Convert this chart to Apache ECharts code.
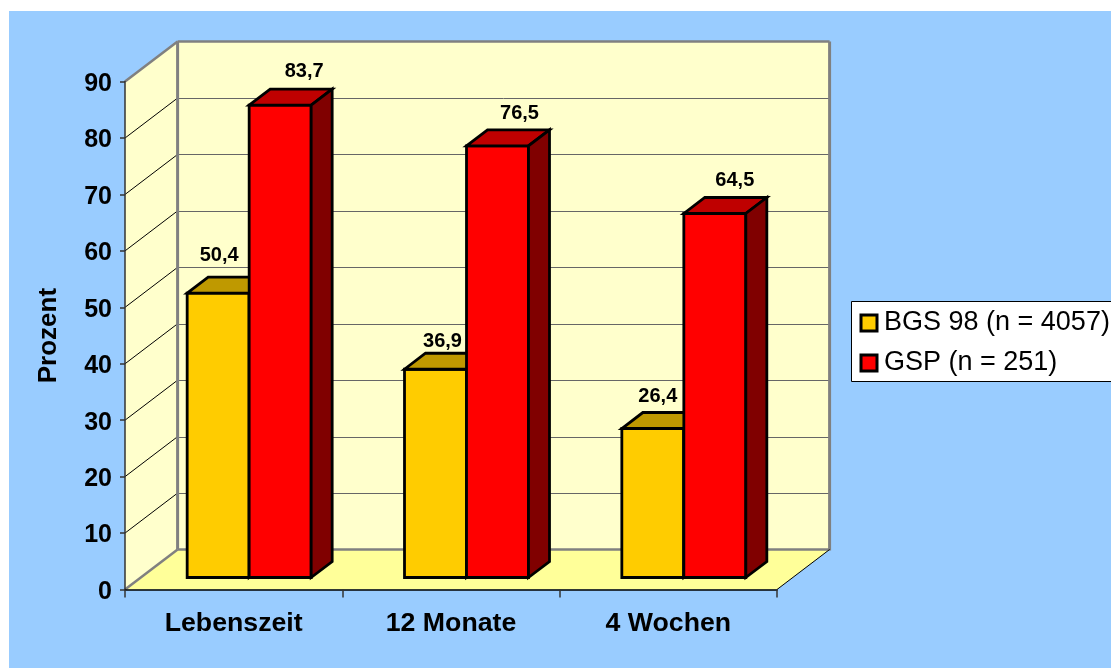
<!DOCTYPE html>
<html>
<head>
<meta charset="utf-8">
<style>html,body{margin:0;padding:0;background:#fff;overflow:hidden}#c{width:1111px;height:668px}</style>
<script src="https://cdn.jsdelivr.net/npm/echarts@6/dist/echarts.min.js"></script>
</head>
<body>
<div id="c"></div>
<script>
const categories = ['Lebenszeit', '12 Monate', '4 Wochen'];
const bgsName = 'BGS 98 (n = 4057)';
const gspName = 'GSP (n = 251)';
const bgsValues = [50.4, 36.9, 26.4];
const gspValues = [83.7, 76.5, 64.5];
const yTicks = [0, 10, 20, 30, 40, 50, 60, 70, 80, 90];

const FONT = '"Liberation Sans", Arial, sans-serif';
// perspective: wall depth and bar depth in pixels
const WALL = [52.6, -40], BAR = [21, -16], BAR_W = 62, BAR_DROP = 12;
const bgsNudge = [[1, -38], [7, -28], [5, -32.5]];
const gspNudge = [[24, -34], [22, -33], [20, -33.5]];

function poly(points, fill, stroke, lw) {
  return { type: 'polygon', shape: { points }, style: { fill, stroke: stroke || null, lineWidth: lw || 0, lineJoin: 'miter' } };
}
function seg(a, b, stroke, lw) {
  return { type: 'line', shape: { x1: a[0], y1: a[1], x2: b[0], y2: b[1] }, style: { stroke, lineWidth: lw } };
}
function renderWalls(params, api) {
  const g = params.coordSys, x0 = g.x, x1 = g.x + g.width;
  const y0 = api.coord([0, 0])[1], yT = api.coord([0, 90])[1];
  const [dx, dy] = WALL;
  const ch = [
    poly([[x0, y0], [x0 + dx, y0 + dy], [x0 + dx, yT + dy], [x0, yT]], '#FFFFCC'),
    poly([[x0 + dx, y0 + dy], [x1 + dx, y0 + dy], [x1 + dx, yT + dy], [x0 + dx, yT + dy]], '#FFFFCC'),
    poly([[x0, y0], [x1, y0], [x1 + dx, y0 + dy], [x0 + dx, y0 + dy]], '#FFFF99')
  ];
  yTicks.forEach(t => {
    const y = api.coord([0, t])[1];
    if (t > 0 && t < 90) {
      const yb = Math.round(y + dy) + 0.5;
      ch.push(seg([x0, y], [x0 + dx, y + dy], '#000', 1));
      ch.push(seg([x0 + dx, yb], [x1 + dx, yb], '#666', 1));
    }
  });
  ch.push(seg([x0, yT], [x0 + dx, yT + dy], '#808080', 2.5));
  ch.push(seg([x0, y0], [x0 + dx, y0 + dy], '#808080', 2.5));
  ch.push(seg([x0 + dx, y0 + dy], [x1 + dx, y0 + dy], '#808080', 2.5));
  ch.push(seg([x0 + dx, y0 + dy], [x0 + dx, yT + dy], '#808080', 3));
  ch.push(seg([x0 + dx, yT + dy], [x1 + dx, yT + dy], '#808080', 2.5));
  ch.push(seg([x1 + dx, y0 + dy + 1], [x1 + dx, yT + dy], '#808080', 3));
  ch.push(seg([x1, y0], [x1 + dx, y0 + dy], '#000', 1));
  return { type: 'group', children: ch };
}
function barRenderer(shift, face, top, side, nudge) {
  return function (params, api) {
    const i = api.value(0), v = api.value(1);
    const c = api.coord([i, v]), b = api.coord([i, 0]);
    const l = c[0] + shift, r = l + BAR_W;
    const yB = b[1] - BAR_DROP, yT = c[1] - BAR_DROP;
    const [dx, dy] = BAR;
    const S = '#000', W = 2.8;
    return {
      type: 'group',
      children: [
        poly([[l, yB], [r, yB], [r, yT], [l, yT]], face, S, W),
        poly([[l, yT], [r, yT], [r + dx, yT + dy], [l + dx, yT + dy]], top, S, W),
        poly([[r, yB], [r + dx, yB + dy], [r + dx, yT + dy], [r, yT]], side, S, W),
        {
          type: 'text',
          style: {
            x: (l + r) / 2 + nudge[i][0], y: yT + nudge[i][1] + 0.5,
            text: String(v).replace('.', ','),
            font: 'bold 20px ' + FONT, fill: '#000', align: 'center', verticalAlign: 'middle'
          }
        }
      ]
    };
  };
}

const chart = echarts.init(document.getElementById('c'));
chart.setOption({
  animation: false,
  backgroundColor: '#fff',
  graphic: [{
    type: 'rect', left: 9, top: 11, z: -10, silent: true,
    shape: { width: 1102, height: 657 }, style: { fill: '#99CCFF' }
  }],
  grid: { left: 125, top: 81.6, width: 652, height: 507.9, containLabel: false },
  legend: {
    orient: 'vertical', left: 851.5, top: 301.5,
    data: [
      { name: bgsName, itemStyle: { color: '#FFCC00', borderColor: '#000', borderWidth: 3 } },
      { name: gspName, itemStyle: { color: '#FF0000', borderColor: '#000', borderWidth: 3 } }
    ],
    backgroundColor: '#fff', borderColor: '#000', borderWidth: 1,
    padding: [8, 40, 5, 8], itemGap: 13, itemWidth: 16, itemHeight: 16, icon: 'rect',
    inactiveColor: '#000', selectedMode: false,
    textStyle: { fontFamily: FONT, fontSize: 27, color: '#000', padding: [0, 0, 0, 2] }
  },
  xAxis: {
    type: 'category', data: categories, z: 5,
    boundaryGap: true,
    axisLine: { lineStyle: { color: '#000', width: 1.5 } },
    axisTick: { show: true, length: 8, alignWithLabel: false, lineStyle: { color: '#333', width: 1.5 } },
    axisLabel: { interval: 0, margin: 21, fontFamily: FONT, fontWeight: 'bold', fontSize: 26.7, color: '#000' },
    splitLine: { show: false }
  },
  yAxis: {
    type: 'value', min: 0, max: 90, interval: 10, z: 5,
    name: 'Prozent', nameLocation: 'middle', nameGap: 63, nameRotate: 90,
    nameTextStyle: { fontFamily: FONT, fontWeight: 'bold', fontSize: 26, color: '#000' },
    axisLine: { show: true, lineStyle: { color: '#333', width: 1.5 } },
    axisTick: { show: true, length: 5, lineStyle: { color: '#333', width: 1.5 } },
    axisLabel: {
      margin: 13, formatter: '{t|{value}}',
      rich: { t: { fontFamily: FONT, fontWeight: 'bold', fontSize: 25, color: '#000', padding: [5, 0, 0, 0] } }
    },
    splitLine: { show: false }
  },
  series: [
    { type: 'custom', name: 'walls', silent: true, z: 1, renderItem: renderWalls, data: [[0, 0]], clip: false, encode: { x: 0, y: 1 } },
    {
      type: 'custom', name: bgsName, z: 2, clip: false, encode: { x: 0, y: 1 },
      itemStyle: { color: '#FFCC00', borderColor: '#000', borderWidth: 2 },
      renderItem: barRenderer(-46.5, '#FFCC00', '#BF9900', '#806600', bgsNudge),
      data: bgsValues.map((v, i) => [i, v])
    },
    {
      type: 'custom', name: gspName, z: 3, clip: false, encode: { x: 0, y: 1 },
      itemStyle: { color: '#FF0000', borderColor: '#000', borderWidth: 2 },
      renderItem: barRenderer(15.5, '#FF0000', '#BF0000', '#800000', gspNudge),
      data: gspValues.map((v, i) => [i, v])
    }
  ]
});
</script>
</body>
</html>
